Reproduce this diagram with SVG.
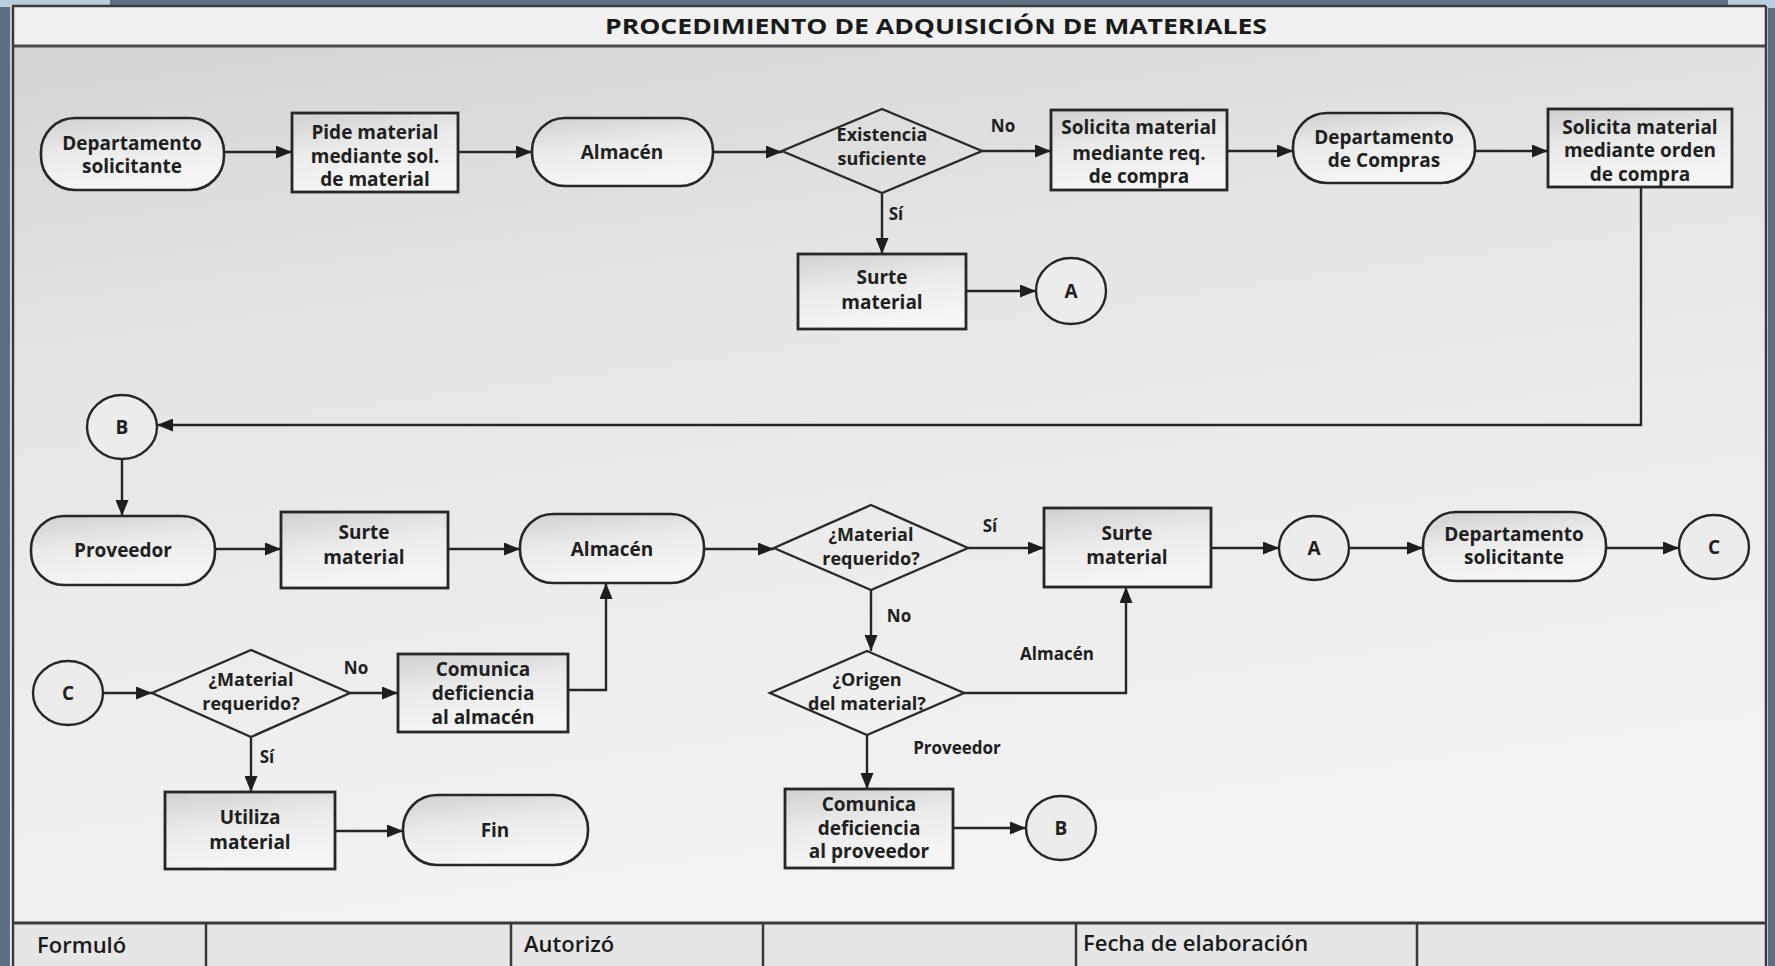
<svg xmlns="http://www.w3.org/2000/svg" width="1775" height="966" viewBox="0 0 1775 966">
<defs>
<linearGradient id="paper" x1="0" y1="0" x2="0.25" y2="1">
<stop offset="0" stop-color="#d2d2d2"/>
<stop offset="0.35" stop-color="#e4e4e4"/>
<stop offset="0.7" stop-color="#ededed"/>
<stop offset="1" stop-color="#f3f3f3"/>
</linearGradient>
<linearGradient id="fillg" x1="0" y1="0" x2="0.3" y2="1">
<stop offset="0" stop-color="#d0d0d0"/>
<stop offset="0.5" stop-color="#ebebeb"/>
<stop offset="1" stop-color="#f5f5f5"/>
</linearGradient>
<marker id="arr" viewBox="0 0 16 13" refX="16" refY="6.5" markerWidth="16" markerHeight="13" markerUnits="userSpaceOnUse" orient="auto">
<path d="M0,0 L16,6.5 L0,13 z" fill="#1e1e1e"/>
</marker>
</defs>
<style>
.box{fill:url(#fillg);stroke:#262626;stroke-width:2.8}
.term{fill:url(#fillg);stroke:#262626;stroke-width:2.6}
.dia{fill:none;stroke:#2a2a2a;stroke-width:2.4}
.circ{fill:#ececec;stroke:#262626;stroke-width:2.4}
.t{font-family:"Open Sans","Liberation Sans",sans-serif;font-weight:700;font-size:19px;fill:#202020;text-anchor:middle}
.td{font-family:"Open Sans","Liberation Sans",sans-serif;font-weight:700;font-size:18px;fill:#202020;text-anchor:middle}
.lbl{font-family:"Open Sans","Liberation Sans",sans-serif;font-weight:700;font-size:17px;fill:#202020;text-anchor:middle}
.ft{font-family:"Open Sans","Liberation Sans",sans-serif;font-weight:600;font-size:22px;fill:#1a1a1a}
.con path{fill:none;stroke:#262626;stroke-width:2.4;marker-end:url(#arr)}
.frame{fill:none;stroke:#3a3a3a;stroke-width:2.5}
</style>

<!-- outer background -->
<rect x="0" y="0" width="1775" height="966" fill="#5d6f84"/>
<rect x="0" y="0" width="110" height="7" fill="#b9cde0"/>
<rect x="1728" y="0" width="47" height="8" fill="#b9cde0"/>
<!-- paper -->
<rect x="10" y="5" width="1758" height="961" fill="url(#paper)"/>
<rect x="12" y="7" width="1754" height="38" fill="#f1f1f1"/>
<rect x="12" y="924" width="1754" height="42" fill="#e6e6e6"/>
<line x1="12" y1="6" x2="1766" y2="6" class="frame"/>
<line x1="12" y1="46" x2="1766" y2="46" stroke="#4a4a4a" stroke-width="3"/>
<line x1="13" y1="6" x2="13" y2="966" class="frame"/>
<line x1="1766" y1="6" x2="1766" y2="966" class="frame"/>
<line x1="12" y1="923" x2="1766" y2="923" stroke="#3a3a3a" stroke-width="3"/>
<line x1="206" y1="923" x2="206" y2="966" class="frame"/>
<line x1="511" y1="923" x2="511" y2="966" class="frame"/>
<line x1="763" y1="923" x2="763" y2="966" class="frame"/>
<line x1="1076" y1="923" x2="1076" y2="966" class="frame"/>
<line x1="1417" y1="923" x2="1417" y2="966" class="frame"/>

<text x="936" y="34" font-family="'Open Sans','Liberation Sans',sans-serif" font-weight="700" font-size="22" fill="#1a1a1a" text-anchor="middle" textLength="662" lengthAdjust="spacingAndGlyphs">PROCEDIMIENTO DE ADQUISICIÓN DE MATERIALES</text>

<text class="ft" x="37" y="953">Formuló</text>
<text class="ft" x="524" y="952">Autorizó</text>
<text class="ft" x="1083" y="951">Fecha de elaboración</text>

<g id="connectors" class="con">
<path d="M224,152 H292"/>
<path d="M458,152 H532"/>
<path d="M713,152 H782"/>
<path d="M982,151 H1051"/>
<path d="M1227,151 H1293"/>
<path d="M1475,151 H1548"/>
<path d="M882,193 V254"/>
<path d="M966,291 H1036"/>
<path d="M1641,187 V425 H157"/>
<path d="M122,460 V516"/>
<path d="M215,549 H281"/>
<path d="M448,549 H520"/>
<path d="M704,549 H774"/>
<path d="M968,548 H1044"/>
<path d="M1211,548 H1279"/>
<path d="M1349,548 H1423"/>
<path d="M1606,548 H1679"/>
<path d="M871,590 V651"/>
<path d="M964,693 H1126 V587"/>
<path d="M867,735 V789"/>
<path d="M953,828 H1026"/>
<path d="M103,693 H152"/>
<path d="M350,693 H398"/>
<path d="M568,690 H606 V583"/>
<path d="M251,737 V792"/>
<path d="M335,831 H403"/>
<text class="lbl" x="1003" y="132">No</text>
<text class="lbl" x="896" y="220">Sí</text>
<text class="lbl" x="990" y="532">Sí</text>
<text class="lbl" x="899" y="622">No</text>
<text class="lbl" x="1057" y="660">Almacén</text>
<text class="lbl" x="957" y="754">Proveedor</text>
<text class="lbl" x="356" y="674">No</text>
<text class="lbl" x="267" y="763">Sí</text>
</g>

<g id="n1"><rect class="term" x="41" y="118" width="183" height="72" rx="34"/><text class="t" x="132" y="150">Departamento</text><text class="t" x="132" y="173">solicitante</text></g>
<g id="n2"><rect class="box" x="292" y="113" width="166" height="79"/><text class="t" x="375" y="139">Pide material</text><text class="t" x="375" y="163">mediante sol.</text><text class="t" x="375" y="186">de material</text></g>
<g id="n3"><rect class="term" x="532" y="118" width="181" height="68" rx="33"/><text class="t" x="622" y="159">Almacén</text></g>
<g id="n4"><polygon class="dia" points="882,109 982,151 882,193 782,151"/><text class="td" x="882" y="141">Existencia</text><text class="td" x="882" y="165">suficiente</text></g>
<g id="n5"><rect class="box" x="1051" y="110" width="176" height="80"/><text class="t" x="1139" y="134">Solicita material</text><text class="t" x="1139" y="160">mediante req.</text><text class="t" x="1139" y="183">de compra</text></g>
<g id="n6"><rect class="term" x="1293" y="113" width="182" height="70" rx="34"/><text class="t" x="1384" y="144">Departamento</text><text class="t" x="1384" y="167">de Compras</text></g>
<g id="n7"><rect class="box" x="1548" y="109" width="184" height="78"/><text class="t" x="1640" y="134">Solicita material</text><text class="t" x="1640" y="157">mediante orden</text><text class="t" x="1640" y="181">de compra</text></g>
<g id="n8"><rect class="box" x="798" y="254" width="168" height="75"/><text class="t" x="882" y="284">Surte</text><text class="t" x="882" y="309">material</text></g>
<g id="n9"><ellipse class="circ" cx="1071" cy="291" rx="35" ry="33"/><text class="t" x="1071" y="298">A</text></g>

<g id="n10"><ellipse class="circ" cx="122" cy="427" rx="35" ry="32"/><text class="t" x="122" y="434">B</text></g>
<g id="n11"><rect class="term" x="31" y="516" width="184" height="69" rx="33"/><text class="t" x="123" y="557">Proveedor</text></g>
<g id="n12"><rect class="box" x="281" y="512" width="167" height="76"/><text class="t" x="364" y="539">Surte</text><text class="t" x="364" y="564">material</text></g>
<g id="n13"><rect class="term" x="520" y="514" width="184" height="69" rx="33"/><text class="t" x="612" y="556">Almacén</text></g>
<g id="n14"><polygon class="dia" points="871,505 968,548 871,590 774,548"/><text class="td" x="871" y="541">¿Material</text><text class="td" x="871" y="565">requerido?</text></g>
<g id="n15"><rect class="box" x="1044" y="508" width="167" height="79"/><text class="t" x="1127" y="540">Surte</text><text class="t" x="1127" y="564">material</text></g>
<g id="n16"><ellipse class="circ" cx="1314" cy="548" rx="35" ry="32"/><text class="t" x="1314" y="555">A</text></g>
<g id="n17"><rect class="term" x="1423" y="512" width="183" height="69" rx="33"/><text class="t" x="1514" y="541">Departamento</text><text class="t" x="1514" y="564">solicitante</text></g>
<g id="n18"><ellipse class="circ" cx="1714" cy="547" rx="35" ry="32"/><text class="t" x="1714" y="554">C</text></g>

<g id="n19"><polygon class="dia" points="867,651 964,693 867,735 770,693"/><text class="td" x="867" y="686">¿Origen</text><text class="td" x="867" y="710">del material?</text></g>
<g id="n20"><rect class="box" x="785" y="789" width="168" height="79"/><text class="t" x="869" y="811">Comunica</text><text class="t" x="869" y="835">deficiencia</text><text class="t" x="869" y="858">al proveedor</text></g>
<g id="n21"><ellipse class="circ" cx="1061" cy="828" rx="35" ry="32"/><text class="t" x="1061" y="835">B</text></g>

<g id="n22"><ellipse class="circ" cx="68" cy="693" rx="35" ry="32"/><text class="t" x="68" y="700">C</text></g>
<g id="n23"><polygon class="dia" points="251,650 350,693 251,737 152,693"/><text class="td" x="251" y="686">¿Material</text><text class="td" x="251" y="710">requerido?</text></g>
<g id="n24"><rect class="box" x="398" y="654" width="170" height="78"/><text class="t" x="483" y="676">Comunica</text><text class="t" x="483" y="700">deficiencia</text><text class="t" x="483" y="724">al almacén</text></g>
<g id="n25"><rect class="box" x="165" y="792" width="170" height="77"/><text class="t" x="250" y="824">Utiliza</text><text class="t" x="250" y="849">material</text></g>
<g id="n26"><rect class="term" x="403" y="795" width="185" height="70" rx="34"/><text class="t" x="495" y="837">Fin</text></g>
</svg>
